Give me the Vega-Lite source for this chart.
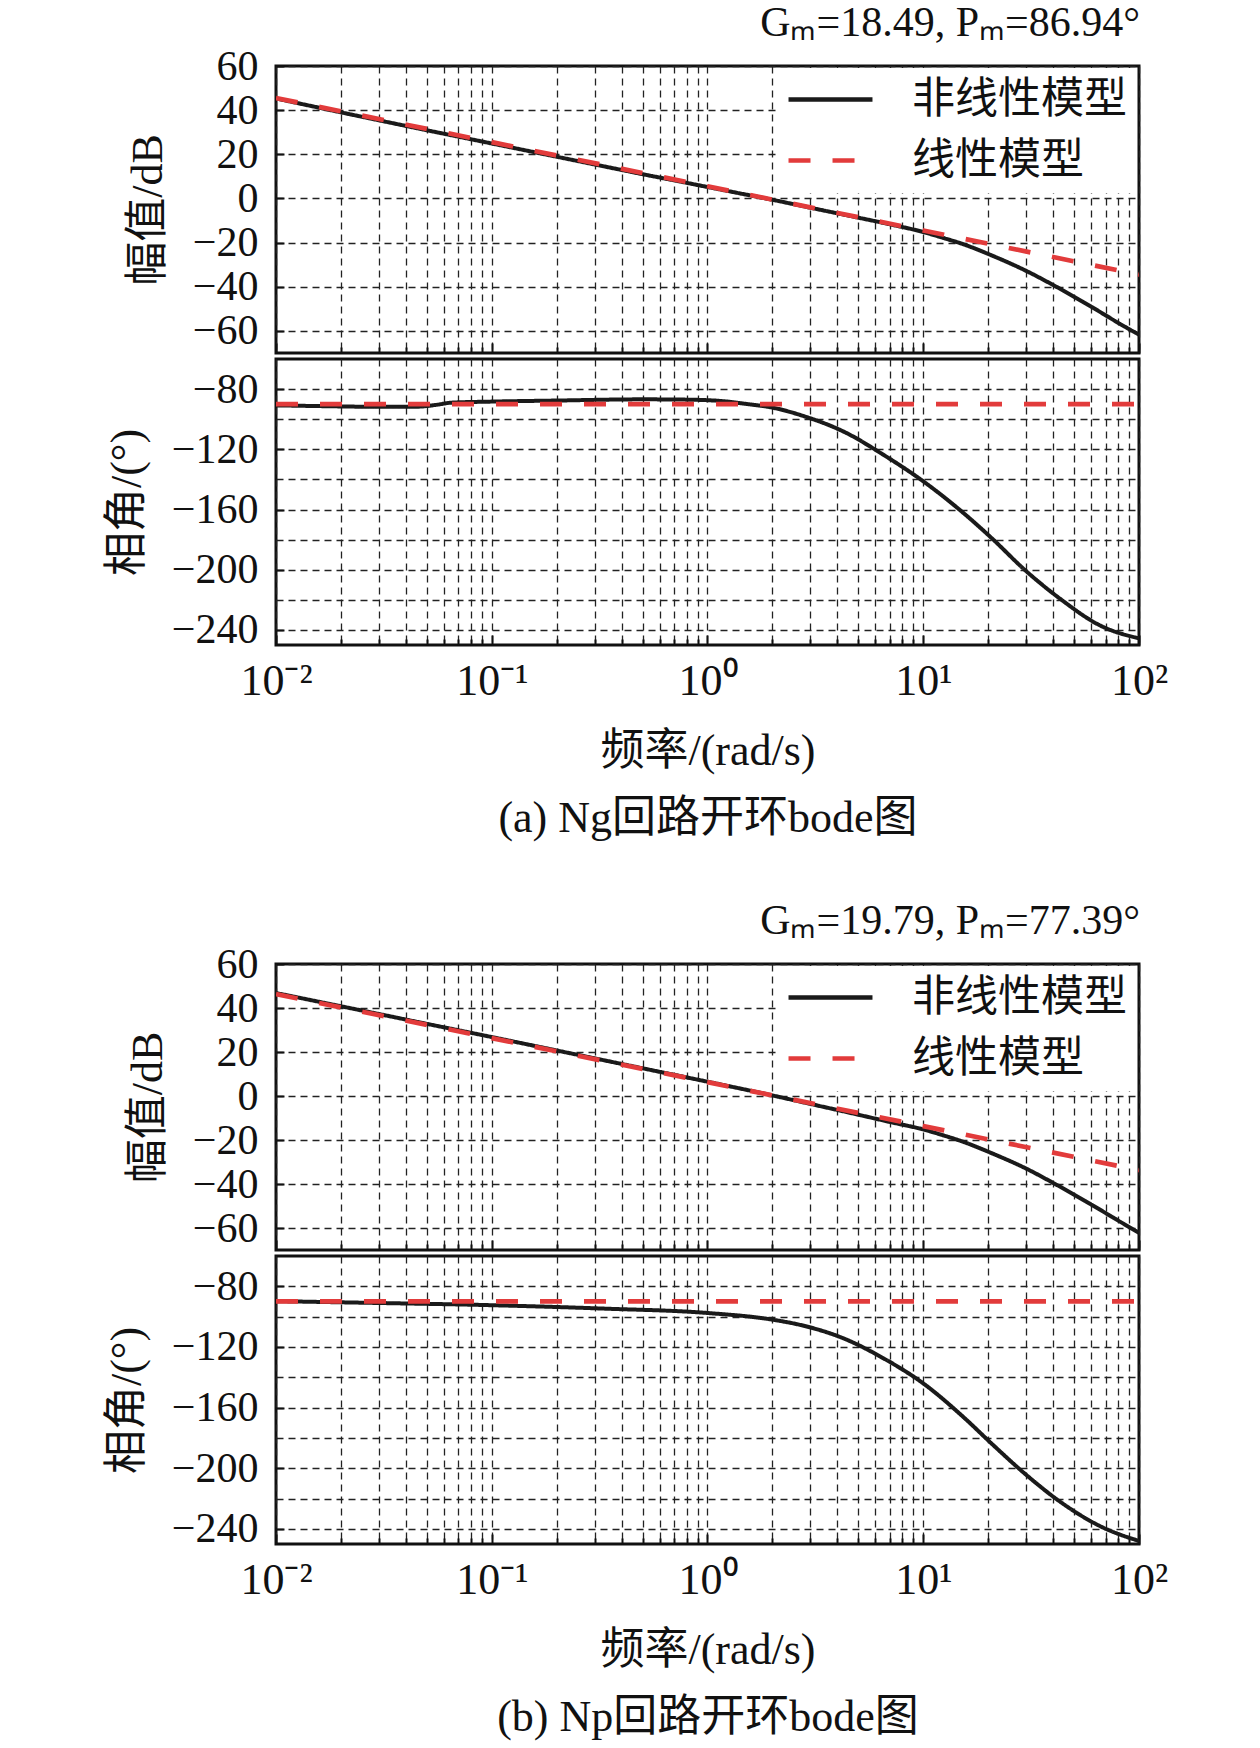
{
  "$schema": "https://vega.github.io/schema/vega-lite/v6.json",
  "background": "white",
  "padding": {"left": 103, "top": 0, "right": 20, "bottom": 0},
  "config": {
    "font": "Liberation Serif, Noto Sans CJK SC",
    "view": {"stroke": "#111111", "strokeWidth": 3},
    "axis": {
      "labelFont": "Liberation Serif, Noto Sans CJK SC",
      "titleFont": "Liberation Serif, Noto Sans CJK SC",
      "labelFontSize": 42,
      "titleFontSize": 44,
      "titleFontWeight": "normal",
      "labelColor": "#111111",
      "titleColor": "#111111",
      "domain": false,
      "grid": true,
      "gridColor": "#222222",
      "gridDash": [7, 5],
      "gridWidth": 1.3,
      "tickColor": "#111111",
      "tickWidth": 2
    },
    "legend": {
      "orient": "top-right",
      "offset": 2,
      "fillColor": "white",
      "padding": 10,
      "labelFont": "Liberation Serif, Noto Sans CJK SC",
      "labelFontSize": 43,
      "labelColor": "#111111",
      "symbolType": "M-5,0L5,0",
      "symbolSize": 282,
      "symbolOffset": 21,
      "labelOffset": 60,
      "rowPadding": 17,
      "symbolStrokeWidth": 4.7,
      "labelLimit": 0
    },
    "title": {
      "font": "Liberation Serif, Noto Sans CJK SC",
      "fontSize": 42,
      "fontWeight": "normal",
      "color": "#111111"
    }
  },
  "datasets": {
    "bode": [
      {"fig": "a", "pane": "mag", "model": "非线性模型", "w": 0.01, "v": 45.3},
      {"fig": "a", "pane": "mag", "model": "非线性模型", "w": 0.02, "v": 39.0},
      {"fig": "a", "pane": "mag", "model": "非线性模型", "w": 0.03, "v": 35.4},
      {"fig": "a", "pane": "mag", "model": "非线性模型", "w": 0.05, "v": 30.9},
      {"fig": "a", "pane": "mag", "model": "非线性模型", "w": 0.07, "v": 28.0},
      {"fig": "a", "pane": "mag", "model": "非线性模型", "w": 0.1, "v": 24.9},
      {"fig": "a", "pane": "mag", "model": "非线性模型", "w": 0.2, "v": 18.9},
      {"fig": "a", "pane": "mag", "model": "非线性模型", "w": 0.3, "v": 15.4},
      {"fig": "a", "pane": "mag", "model": "非线性模型", "w": 0.5, "v": 11.0},
      {"fig": "a", "pane": "mag", "model": "非线性模型", "w": 0.7, "v": 8.2},
      {"fig": "a", "pane": "mag", "model": "非线性模型", "w": 1, "v": 5.2},
      {"fig": "a", "pane": "mag", "model": "非线性模型", "w": 1.5, "v": 1.8},
      {"fig": "a", "pane": "mag", "model": "非线性模型", "w": 2, "v": -0.6},
      {"fig": "a", "pane": "mag", "model": "非线性模型", "w": 3, "v": -4.2},
      {"fig": "a", "pane": "mag", "model": "非线性模型", "w": 5, "v": -8.7},
      {"fig": "a", "pane": "mag", "model": "非线性模型", "w": 7, "v": -11.7},
      {"fig": "a", "pane": "mag", "model": "非线性模型", "w": 10, "v": -15.2},
      {"fig": "a", "pane": "mag", "model": "非线性模型", "w": 12.5, "v": -18.0},
      {"fig": "a", "pane": "mag", "model": "非线性模型", "w": 15, "v": -20.4},
      {"fig": "a", "pane": "mag", "model": "非线性模型", "w": 21, "v": -26.0},
      {"fig": "a", "pane": "mag", "model": "非线性模型", "w": 30, "v": -32.8},
      {"fig": "a", "pane": "mag", "model": "非线性模型", "w": 40, "v": -39.2},
      {"fig": "a", "pane": "mag", "model": "非线性模型", "w": 60, "v": -49.0},
      {"fig": "a", "pane": "mag", "model": "非线性模型", "w": 80, "v": -56.3},
      {"fig": "a", "pane": "mag", "model": "非线性模型", "w": 100, "v": -61.7},
      {"fig": "a", "pane": "mag", "model": "线性模型", "w": 0.01, "v": 45.5},
      {"fig": "a", "pane": "mag", "model": "线性模型", "w": 0.1, "v": 25.5},
      {"fig": "a", "pane": "mag", "model": "线性模型", "w": 1, "v": 5.5},
      {"fig": "a", "pane": "mag", "model": "线性模型", "w": 10, "v": -14.5},
      {"fig": "a", "pane": "mag", "model": "线性模型", "w": 100, "v": -34.5},
      {"fig": "a", "pane": "phase", "model": "非线性模型", "w": 0.01, "v": -90.8},
      {"fig": "a", "pane": "phase", "model": "非线性模型", "w": 0.02, "v": -91.5},
      {"fig": "a", "pane": "phase", "model": "非线性模型", "w": 0.03, "v": -91.8},
      {"fig": "a", "pane": "phase", "model": "非线性模型", "w": 0.045, "v": -91.7},
      {"fig": "a", "pane": "phase", "model": "非线性模型", "w": 0.055, "v": -90.5},
      {"fig": "a", "pane": "phase", "model": "非线性模型", "w": 0.065, "v": -89.0},
      {"fig": "a", "pane": "phase", "model": "非线性模型", "w": 0.1, "v": -88.3},
      {"fig": "a", "pane": "phase", "model": "非线性模型", "w": 0.2, "v": -87.6},
      {"fig": "a", "pane": "phase", "model": "非线性模型", "w": 0.5, "v": -86.8},
      {"fig": "a", "pane": "phase", "model": "非线性模型", "w": 0.8, "v": -87.0},
      {"fig": "a", "pane": "phase", "model": "非线性模型", "w": 1.18, "v": -88.0},
      {"fig": "a", "pane": "phase", "model": "非线性模型", "w": 1.5, "v": -89.8},
      {"fig": "a", "pane": "phase", "model": "非线性模型", "w": 2, "v": -92.3},
      {"fig": "a", "pane": "phase", "model": "非线性模型", "w": 2.8, "v": -98.0},
      {"fig": "a", "pane": "phase", "model": "非线性模型", "w": 4.3, "v": -108.4},
      {"fig": "a", "pane": "phase", "model": "非线性模型", "w": 6.6, "v": -124.0},
      {"fig": "a", "pane": "phase", "model": "非线性模型", "w": 10.1, "v": -141.7},
      {"fig": "a", "pane": "phase", "model": "非线性模型", "w": 15.5, "v": -162.8},
      {"fig": "a", "pane": "phase", "model": "非线性模型", "w": 20.9, "v": -179.4},
      {"fig": "a", "pane": "phase", "model": "非线性模型", "w": 29.4, "v": -199.8},
      {"fig": "a", "pane": "phase", "model": "非线性模型", "w": 43.2, "v": -219.4},
      {"fig": "a", "pane": "phase", "model": "非线性模型", "w": 66.2, "v": -237.1},
      {"fig": "a", "pane": "phase", "model": "非线性模型", "w": 100, "v": -245.6},
      {"fig": "a", "pane": "phase", "model": "线性模型", "w": 0.01, "v": -90},
      {"fig": "a", "pane": "phase", "model": "线性模型", "w": 100, "v": -90},
      {"fig": "b", "pane": "mag", "model": "非线性模型", "w": 0.01, "v": 46.8},
      {"fig": "b", "pane": "mag", "model": "非线性模型", "w": 0.02, "v": 40.8},
      {"fig": "b", "pane": "mag", "model": "非线性模型", "w": 0.05, "v": 32.8},
      {"fig": "b", "pane": "mag", "model": "非线性模型", "w": 0.1, "v": 26.8},
      {"fig": "b", "pane": "mag", "model": "非线性模型", "w": 0.2, "v": 20.7},
      {"fig": "b", "pane": "mag", "model": "非线性模型", "w": 0.5, "v": 12.6},
      {"fig": "b", "pane": "mag", "model": "非线性模型", "w": 1, "v": 6.5},
      {"fig": "b", "pane": "mag", "model": "非线性模型", "w": 1.75, "v": 1.5},
      {"fig": "b", "pane": "mag", "model": "非线性模型", "w": 3, "v": -3.6},
      {"fig": "b", "pane": "mag", "model": "非线性模型", "w": 5.1, "v": -8.7},
      {"fig": "b", "pane": "mag", "model": "非线性模型", "w": 7, "v": -11.8},
      {"fig": "b", "pane": "mag", "model": "非线性模型", "w": 10, "v": -15.2},
      {"fig": "b", "pane": "mag", "model": "非线性模型", "w": 12.5, "v": -18.0},
      {"fig": "b", "pane": "mag", "model": "非线性模型", "w": 15, "v": -20.5},
      {"fig": "b", "pane": "mag", "model": "非线性模型", "w": 21, "v": -26.2},
      {"fig": "b", "pane": "mag", "model": "非线性模型", "w": 30, "v": -33.0},
      {"fig": "b", "pane": "mag", "model": "非线性模型", "w": 40, "v": -39.5},
      {"fig": "b", "pane": "mag", "model": "非线性模型", "w": 60, "v": -49.3},
      {"fig": "b", "pane": "mag", "model": "非线性模型", "w": 80, "v": -56.6},
      {"fig": "b", "pane": "mag", "model": "非线性模型", "w": 100, "v": -62.2},
      {"fig": "b", "pane": "mag", "model": "线性模型", "w": 0.01, "v": 46.3},
      {"fig": "b", "pane": "mag", "model": "线性模型", "w": 0.1, "v": 26.3},
      {"fig": "b", "pane": "mag", "model": "线性模型", "w": 1, "v": 6.3},
      {"fig": "b", "pane": "mag", "model": "线性模型", "w": 10, "v": -13.7},
      {"fig": "b", "pane": "mag", "model": "线性模型", "w": 100, "v": -33.7},
      {"fig": "b", "pane": "phase", "model": "非线性模型", "w": 0.01, "v": -89.8},
      {"fig": "b", "pane": "phase", "model": "非线性模型", "w": 0.03, "v": -91.0},
      {"fig": "b", "pane": "phase", "model": "非线性模型", "w": 0.09, "v": -92.3},
      {"fig": "b", "pane": "phase", "model": "非线性模型", "w": 0.33, "v": -94.7},
      {"fig": "b", "pane": "phase", "model": "非线性模型", "w": 1.0, "v": -97.6},
      {"fig": "b", "pane": "phase", "model": "非线性模型", "w": 1.98, "v": -101.9},
      {"fig": "b", "pane": "phase", "model": "非线性模型", "w": 2.79, "v": -106.0},
      {"fig": "b", "pane": "phase", "model": "非线性模型", "w": 4.28, "v": -114.4},
      {"fig": "b", "pane": "phase", "model": "非线性模型", "w": 6.56, "v": -127.6},
      {"fig": "b", "pane": "phase", "model": "非线性模型", "w": 10.1, "v": -144.5},
      {"fig": "b", "pane": "phase", "model": "非线性模型", "w": 15.5, "v": -166.8},
      {"fig": "b", "pane": "phase", "model": "非线性模型", "w": 20.9, "v": -184.2},
      {"fig": "b", "pane": "phase", "model": "非线性模型", "w": 29.4, "v": -203.3},
      {"fig": "b", "pane": "phase", "model": "非线性模型", "w": 43.2, "v": -222.2},
      {"fig": "b", "pane": "phase", "model": "非线性模型", "w": 66.2, "v": -238.3},
      {"fig": "b", "pane": "phase", "model": "非线性模型", "w": 100, "v": -248.0},
      {"fig": "b", "pane": "phase", "model": "线性模型", "w": 0.01, "v": -90},
      {"fig": "b", "pane": "phase", "model": "线性模型", "w": 100, "v": -90}
    ]
  },
  "spacing": 56,
  "resolve": {"scale": {"color": "independent", "strokeDash": "independent"}},
  "vconcat": [
    {
      "spacing": 1,
      "resolve": {"scale": {"color": "independent", "strokeDash": "independent"}},
      "vconcat": [
        {
          "width": 863,
          "height": 287,
          "title": {"text": "Gₘ=18.49, Pₘ=86.94°", "anchor": "end", "offset": 0},
          "data": {"name": "bode"},
          "transform": [{"filter": "datum.fig === 'a' && datum.pane === 'mag'"}],
          "encoding": {
            "x": {"field": "w", "type": "quantitative", "scale": {"type": "log", "domain": [0.01, 100], "nice": false},
              "axis": {"values": [0.01,0.02,0.03,0.04,0.05,0.06,0.07,0.08,0.09,0.1,0.2,0.3,0.4,0.5,0.6,0.7,0.8,0.9,1,2,3,4,5,6,7,8,9,10,20,30,40,50,60,70,80,90,100], "labels": false, "title": null,
                "tickSize": {"condition": {"test": "abs(log(datum.value)/LN10 - round(log(datum.value)/LN10)) < 0.001", "value": -10}, "value": -6}}},
            "y": {"field": "v", "type": "quantitative", "scale": {"domain": [-70, 60], "nice": false},
              "axis": {"values": [-60,-40,-20,0,20,40,60], "title": "幅值/dB", "tickSize": -8, "labelPadding": 26, "titlePadding": 22}},
            "color": {"field": "model", "type": "nominal", "scale": {"domain": ["非线性模型", "线性模型"], "range": ["#1a1a1a", "#e23b3b"]}, "legend": {"title": null}},
            "strokeDash": {"field": "model", "type": "nominal", "scale": {"domain": ["非线性模型", "线性模型"], "range": [[1, 0], [22, 22]]}, "legend": {"title": null}}
          },
          "layer": [
            {"transform": [{"filter": "datum.model === '非线性模型'"}], "mark": {"type": "line", "strokeWidth": 4, "interpolate": "monotone", "clip": true}},
            {"transform": [{"filter": "datum.model === '线性模型'"}], "mark": {"type": "line", "strokeWidth": 4.7, "clip": true}}
          ]
        },
        {
          "width": 863,
          "height": 286,
          "data": {"name": "bode"},
          "transform": [{"filter": "datum.fig === 'a' && datum.pane === 'phase'"}],
          "encoding": {
            "x": {"field": "w", "type": "quantitative", "scale": {"type": "log", "domain": [0.01, 100], "nice": false},
              "axis": {"values": [0.01,0.02,0.03,0.04,0.05,0.06,0.07,0.08,0.09,0.1,0.2,0.3,0.4,0.5,0.6,0.7,0.8,0.9,1,2,3,4,5,6,7,8,9,10,20,30,40,50,60,70,80,90,100],
                "labelExpr": "datum.value == 0.01 ? '10⁻²' : datum.value == 0.1 ? '10⁻¹' : datum.value == 1 ? '10⁰' : datum.value == 10 ? '10¹' : datum.value == 100 ? '10²' : ''",
                "labelPadding": 24, "labelFontSize": 44, "labelOverlap": false, "labelFlush": false,
                "title": ["频率/(rad/s)", "(a) Ng回路开环bode图"], "titleLineHeight": 67, "titlePadding": 22,
                "tickSize": {"condition": {"test": "abs(log(datum.value)/LN10 - round(log(datum.value)/LN10)) < 0.001", "value": -10}, "value": -6}}},
            "y": {"field": "v", "type": "quantitative", "scale": {"domain": [-250, -60], "nice": false},
              "axis": {"values": [-240,-220,-200,-180,-160,-140,-120,-100,-80], "labelExpr": "datum.value % 40 === 0 ? datum.label : ''",
                "title": "相角/(°)", "tickSize": -8, "labelPadding": 26, "titlePadding": 22,
                "tickOpacity": {"condition": {"test": "datum.value % 40 !== 0", "value": 0}, "value": 1}}},
            "color": {"field": "model", "type": "nominal", "scale": {"domain": ["非线性模型", "线性模型"], "range": ["#1a1a1a", "#e23b3b"]}, "legend": null},
            "strokeDash": {"field": "model", "type": "nominal", "scale": {"domain": ["非线性模型", "线性模型"], "range": [[1, 0], [22, 22]]}, "legend": null}
          },
          "layer": [
            {"transform": [{"filter": "datum.model === '非线性模型'"}], "mark": {"type": "line", "strokeWidth": 4, "interpolate": "monotone", "clip": true}},
            {"transform": [{"filter": "datum.model === '线性模型'"}], "mark": {"type": "line", "strokeWidth": 4.7, "clip": true}}
          ]
        }
      ]
    },
    {
      "spacing": 1,
      "resolve": {"scale": {"color": "independent", "strokeDash": "independent"}},
      "vconcat": [
        {
          "width": 863,
          "height": 286,
          "title": {"text": "Gₘ=19.79, Pₘ=77.39°", "anchor": "end", "offset": 0},
          "data": {"name": "bode"},
          "transform": [{"filter": "datum.fig === 'b' && datum.pane === 'mag'"}],
          "encoding": {
            "x": {"field": "w", "type": "quantitative", "scale": {"type": "log", "domain": [0.01, 100], "nice": false},
              "axis": {"values": [0.01,0.02,0.03,0.04,0.05,0.06,0.07,0.08,0.09,0.1,0.2,0.3,0.4,0.5,0.6,0.7,0.8,0.9,1,2,3,4,5,6,7,8,9,10,20,30,40,50,60,70,80,90,100], "labels": false, "title": null,
                "tickSize": {"condition": {"test": "abs(log(datum.value)/LN10 - round(log(datum.value)/LN10)) < 0.001", "value": -10}, "value": -6}}},
            "y": {"field": "v", "type": "quantitative", "scale": {"domain": [-70, 60], "nice": false},
              "axis": {"values": [-60,-40,-20,0,20,40,60], "title": "幅值/dB", "tickSize": -8, "labelPadding": 26, "titlePadding": 22}},
            "color": {"field": "model", "type": "nominal", "scale": {"domain": ["非线性模型", "线性模型"], "range": ["#1a1a1a", "#e23b3b"]}, "legend": {"title": null}},
            "strokeDash": {"field": "model", "type": "nominal", "scale": {"domain": ["非线性模型", "线性模型"], "range": [[1, 0], [22, 22]]}, "legend": {"title": null}}
          },
          "layer": [
            {"transform": [{"filter": "datum.model === '非线性模型'"}], "mark": {"type": "line", "strokeWidth": 4, "interpolate": "monotone", "clip": true}},
            {"transform": [{"filter": "datum.model === '线性模型'"}], "mark": {"type": "line", "strokeWidth": 4.7, "clip": true}}
          ]
        },
        {
          "width": 863,
          "height": 288,
          "data": {"name": "bode"},
          "transform": [{"filter": "datum.fig === 'b' && datum.pane === 'phase'"}],
          "encoding": {
            "x": {"field": "w", "type": "quantitative", "scale": {"type": "log", "domain": [0.01, 100], "nice": false},
              "axis": {"values": [0.01,0.02,0.03,0.04,0.05,0.06,0.07,0.08,0.09,0.1,0.2,0.3,0.4,0.5,0.6,0.7,0.8,0.9,1,2,3,4,5,6,7,8,9,10,20,30,40,50,60,70,80,90,100],
                "labelExpr": "datum.value == 0.01 ? '10⁻²' : datum.value == 0.1 ? '10⁻¹' : datum.value == 1 ? '10⁰' : datum.value == 10 ? '10¹' : datum.value == 100 ? '10²' : ''",
                "labelPadding": 24, "labelFontSize": 44, "labelOverlap": false, "labelFlush": false,
                "title": ["频率/(rad/s)", "(b) Np回路开环bode图"], "titleLineHeight": 67, "titlePadding": 22,
                "tickSize": {"condition": {"test": "abs(log(datum.value)/LN10 - round(log(datum.value)/LN10)) < 0.001", "value": -10}, "value": -6}}},
            "y": {"field": "v", "type": "quantitative", "scale": {"domain": [-250, -60], "nice": false},
              "axis": {"values": [-240,-220,-200,-180,-160,-140,-120,-100,-80], "labelExpr": "datum.value % 40 === 0 ? datum.label : ''",
                "title": "相角/(°)", "tickSize": -8, "labelPadding": 26, "titlePadding": 22,
                "tickOpacity": {"condition": {"test": "datum.value % 40 !== 0", "value": 0}, "value": 1}}},
            "color": {"field": "model", "type": "nominal", "scale": {"domain": ["非线性模型", "线性模型"], "range": ["#1a1a1a", "#e23b3b"]}, "legend": null},
            "strokeDash": {"field": "model", "type": "nominal", "scale": {"domain": ["非线性模型", "线性模型"], "range": [[1, 0], [22, 22]]}, "legend": null}
          },
          "layer": [
            {"transform": [{"filter": "datum.model === '非线性模型'"}], "mark": {"type": "line", "strokeWidth": 4, "interpolate": "monotone", "clip": true}},
            {"transform": [{"filter": "datum.model === '线性模型'"}], "mark": {"type": "line", "strokeWidth": 4.7, "clip": true}}
          ]
        }
      ]
    }
  ]
}
